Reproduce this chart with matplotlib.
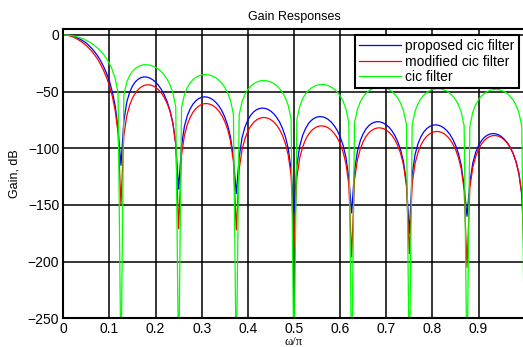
import numpy as np
import matplotlib
matplotlib.use('Agg')
import matplotlib.pyplot as plt

# gain values (dB), one value every 1/160 of omega/pi
# each row is one lobe, nulls sit at multiples of 0.125
gain_proposed = [
    0.0, -0.1, -0.4, -1.0, -1.7, -2.7, -4.0, -5.5, -7.2, -9.6, -12.2, -15.3, -18.8, -23.0, -28.0, -33.8, -40.8, -50.1, -62.6, -82.7,
    -115, -76.1, -59.5, -50.6, -45.0, -41.3, -39.0, -37.6, -37.0, -37.2, -38.0, -39.5, -41.6, -44.4, -48.1, -52.7, -58.7, -66.6, -77.7, -96.6,
    -136, -97.8, -80.7, -71.3, -65.2, -60.9, -58.0, -56.1, -55.0, -54.6, -54.9, -55.8, -57.4, -59.7, -62.8, -66.9, -72.4, -79.7, -90.3, -108.6,
    -140, -107.7, -90.6, -81.2, -75.1, -70.8, -67.9, -66.0, -64.9, -64.5, -64.8, -65.7, -67.3, -69.6, -72.7, -76.8, -82.3, -89.6, -100.2, -118.5,
    -157, -115.2, -98.1, -88.7, -82.6, -78.3, -75.4, -73.5, -72.4, -72.0, -72.3, -73.2, -74.8, -77.1, -80.2, -84.3, -89.8, -97.1, -107.7, -126.0,
    -157, -119.7, -102.6, -93.2, -87.1, -82.8, -79.9, -78.0, -76.9, -76.5, -76.8, -77.7, -79.3, -81.6, -84.7, -88.8, -94.3, -101.6, -112.2, -130.5,
    -175, -122.5, -105.4, -96.0, -89.9, -85.6, -82.7, -80.8, -79.7, -79.3, -79.6, -80.5, -82.1, -84.4, -87.5, -91.6, -97.1, -104.4, -115.0, -133.3,
    -160, -130.2, -113.1, -103.7, -97.6, -93.3, -90.4, -88.5, -87.4, -87.0, -87.3, -88.2, -89.8, -92.1, -95.2, -99.3, -104.8, -112.1, -122.7, -141.0,
    -190,
]

gain_modified = [
    0.0, -0.2, -0.6, -1.5, -2.5, -3.9, -5.5, -7.3, -9.4, -11.9, -14.7, -18.0, -21.8, -26.3, -31.5, -37.5, -44.8, -54.1, -66.6, -86.7,
    -150, -88.9, -71.6, -62.0, -55.6, -51.2, -48.1, -45.9, -44.6, -44.0, -44.1, -44.8, -46.2, -48.3, -51.2, -55.1, -60.3, -67.4, -77.8, -95.9,
    -171, -106.2, -88.8, -79.1, -72.7, -68.1, -64.9, -62.7, -61.3, -60.6, -60.6, -61.2, -62.5, -64.5, -67.3, -71.1, -76.3, -83.3, -93.6, -111.6,
    -172, -118.5, -101.1, -91.4, -85.0, -80.4, -77.2, -75.0, -73.6, -72.9, -72.9, -73.5, -74.8, -76.8, -79.6, -83.4, -88.6, -95.6, -105.9, -123.9,
    -187, -125.9, -108.5, -98.8, -92.4, -87.8, -84.6, -82.4, -81.0, -80.3, -80.3, -80.9, -82.2, -84.2, -87.0, -90.8, -96.0, -103.0, -113.3, -131.3,
    -196, -127.6, -110.2, -100.5, -94.1, -89.5, -86.3, -84.1, -82.7, -82.0, -82.0, -82.6, -83.9, -85.9, -88.7, -92.5, -97.7, -104.7, -115.0, -133.0,
    -193, -130.8, -113.4, -103.7, -97.3, -92.7, -89.5, -87.3, -85.9, -85.2, -85.2, -85.8, -87.1, -89.1, -91.9, -95.7, -100.9, -107.9, -118.2, -136.2,
    -205, -134.4, -117.0, -107.3, -100.9, -96.3, -93.1, -90.9, -89.5, -88.8, -88.8, -89.4, -90.7, -92.7, -95.5, -99.3, -104.5, -111.5, -121.8, -139.8,
    -210,
]

# plain cic, its nulls drop far below the axis (-300 = off the chart)
gain_cic = [
    0.0, -0.1, -0.3, -0.7, -1.2, -1.8, -2.6, -3.6, -4.8, -6.2, -7.8, -9.7, -11.8, -14.4, -17.3, -20.9, -25.2, -30.7, -38.4, -51.1,
    -300, -52.8, -41.7, -35.8, -32.1, -29.6, -27.9, -26.8, -26.3, -26.3, -26.7, -27.4, -28.6, -30.2, -32.4, -35.3, -38.9, -43.9, -51.0, -63.3,
    -300, -64.1, -52.7, -46.4, -42.3, -39.4, -37.4, -36.1, -35.3, -35.0, -35.1, -35.6, -36.6, -38.0, -40.0, -42.6, -46.1, -50.9, -57.8, -69.9,
    -300, -70.4, -58.8, -52.4, -48.2, -45.2, -43.1, -41.6, -40.7, -40.3, -40.3, -40.7, -41.5, -42.9, -44.7, -47.3, -50.7, -55.3, -62.2, -74.2,
    -300, -74.5, -62.9, -56.4, -52.0, -49.0, -46.8, -45.3, -44.3, -43.8, -43.7, -44.0, -44.8, -46.1, -47.9, -50.4, -53.7, -58.3, -65.1, -77.1,
    -300, -77.3, -65.6, -59.0, -54.6, -51.5, -49.3, -47.7, -46.7, -46.1, -46.0, -46.3, -47.0, -48.2, -50.0, -52.4, -55.7, -60.3, -67.0, -78.9,
    -300, -79.1, -67.3, -60.7, -56.3, -53.1, -50.9, -49.2, -48.2, -47.6, -47.4, -47.7, -48.4, -49.5, -51.3, -53.7, -56.9, -61.4, -68.2, -80.0,
    -300, -80.1, -68.3, -61.6, -57.2, -54.0, -51.7, -50.0, -48.9, -48.3, -48.1, -48.3, -49.0, -50.1, -51.8, -54.2, -57.4, -61.9, -68.6, -80.4,
    -300,
]

series_labels = ['proposed cic filter', 'modified cic filter', 'cic filter']
x_ticks = [0, 0.1, 0.2, 0.3, 0.4, 0.5, 0.6, 0.7, 0.8, 0.9]
x_tick_labels = ['0', '0.1', '0.2', '0.3', '0.4', '0.5', '0.6', '0.7', '0.8', '0.9']
y_ticks = [0, -50, -100, -150, -200, -250]

# evenly sampled frequency axis, 0 .. 1 (omega/pi)
omega = np.linspace(0, 1, len(gain_cic))

plt.rcParams['font.family'] = ['Liberation Sans', 'DejaVu Sans']

fig = plt.figure(figsize=(5.23, 3.47), dpi=100)
# the right edge of the axes runs just past the image border
ax = fig.add_axes([0.121, 0.0827, 0.8822, 0.8329])

ax.plot(omega, gain_proposed, color='#0000ff', lw=0.9, label=series_labels[0])
ax.plot(omega, gain_modified, color='#ff0000', lw=0.9, label=series_labels[1])
ax.plot(omega, gain_cic, color='#00ff00', lw=0.9, label=series_labels[2])

ax.set_xlim(0, 1)
ax.set_ylim(-250, 5)
ax.set_xticks(x_ticks)
ax.set_xticklabels(x_tick_labels)
ax.set_yticks(y_ticks)
ax.tick_params(length=0, labelsize=10, pad=3)

ax.grid(True, color='black', lw=1.1, ls='-')
ax.set_axisbelow(True)
for spine in ax.spines.values():
    spine.set_linewidth(1.5)

ax.set_title('Gain Responses', fontsize=9, pad=7)
ax.set_ylabel('Gain, dB', fontsize=9, labelpad=5)
ax.set_xlabel('\u03c9/\u03c0', fontsize=9, family=['Liberation Serif', 'DejaVu Serif'], labelpad=0)

leg = ax.legend(loc='upper right', bbox_to_anchor=(0.9877, 0.980), borderaxespad=0,
                fontsize=10, handlelength=3.0, handletextpad=0.35, labelspacing=0.1,
                borderpad=0.3, fancybox=False, framealpha=1, edgecolor='black')
leg.get_frame().set_linewidth(1.5)

fig.savefig('out.png', dpi=100)
